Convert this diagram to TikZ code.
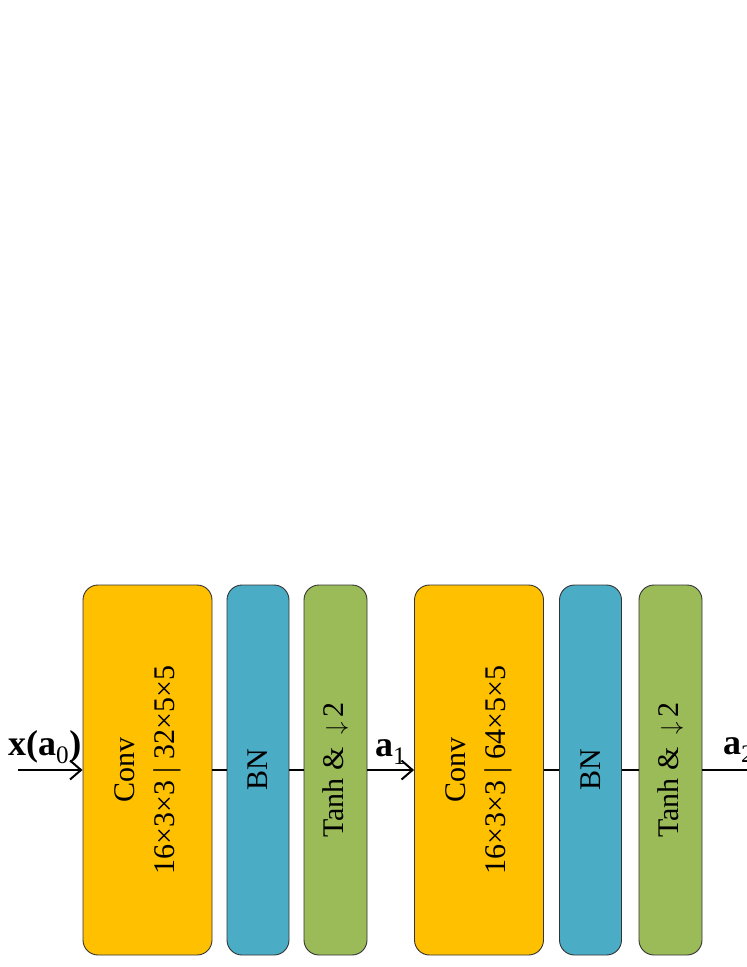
\documentclass[tikz,border=0pt]{standalone}
\usepackage{fontspec}
\setmainfont{Liberation Serif}
\usetikzlibrary{arrows.meta}
\definecolor{convc}{HTML}{FFC000}
\definecolor{bnc}{HTML}{4BACC6}
\definecolor{tanhc}{HTML}{9BBB59}
\begin{document}
\begin{tikzpicture}[x=1pt,y=-1pt,
  blk/.style={draw=black!80, line width=0.9pt, rounded corners=15pt, rotate=90,
    minimum width=370pt, inner sep=0pt, align=center,
    font=\fontsize{30}{40}\selectfont},
  convbox/.style={blk, fill=convc, minimum height=129pt},
  bnbox/.style={blk, fill=bnc, minimum height=62pt},
  tanhbox/.style={blk, fill=tanhc, minimum height=63pt},
  lbl/.style={anchor=base west, inner sep=0pt, font=\fontsize{36}{40}\selectfont\bfseries},
  conn/.style={line width=2pt},
  arr/.style={conn, -{Straight Barb[length=11pt,width=19pt,line width=2pt]}}]
\useasboundingbox[fill=white] (0,0) rectangle (747,967);
% labels (drawn first, boxes overlap them)
\node[lbl] (la0) at (8,755) {x(a\textsubscript{\mdseries 0})};
\node[lbl] (la1) at (375,756) {a\textsubscript{\mdseries 1}};
\node[lbl] (la2) at (723,754) {a\textsubscript{\mdseries 2}};
% coordinates for free ends
\coordinate (in) at (18,770);
\coordinate (out) at (747,770);
% blocks
\node[convbox] (conv1) at (147.5,770) {Conv\\16×3×3 | 32×5×5};
\node[bnbox]   (bn1)   at (258,770) {BN};
\node[tanhbox] (tanh1) at (335.5,770) {Tanh \& \,$\downarrow$\,2};
\node[convbox] (conv2) at (479,770) {Conv\\16×3×3 | 64×5×5};
\node[bnbox]   (bn2)   at (590.5,770) {BN};
\node[tanhbox] (tanh2) at (670.5,770) {Tanh \& \,$\downarrow$\,2};
% connectors
\draw[arr] (in) -- (conv1);
\draw[conn] (conv1) -- (bn1);
\draw[conn] (bn1) -- (tanh1);
\draw[arr] (tanh1) -- (conv2);
\draw[conn] (conv2) -- (bn2);
\draw[conn] (bn2) -- (tanh2);
\draw[conn] (tanh2) -- (out);
\end{tikzpicture}
\end{document}
